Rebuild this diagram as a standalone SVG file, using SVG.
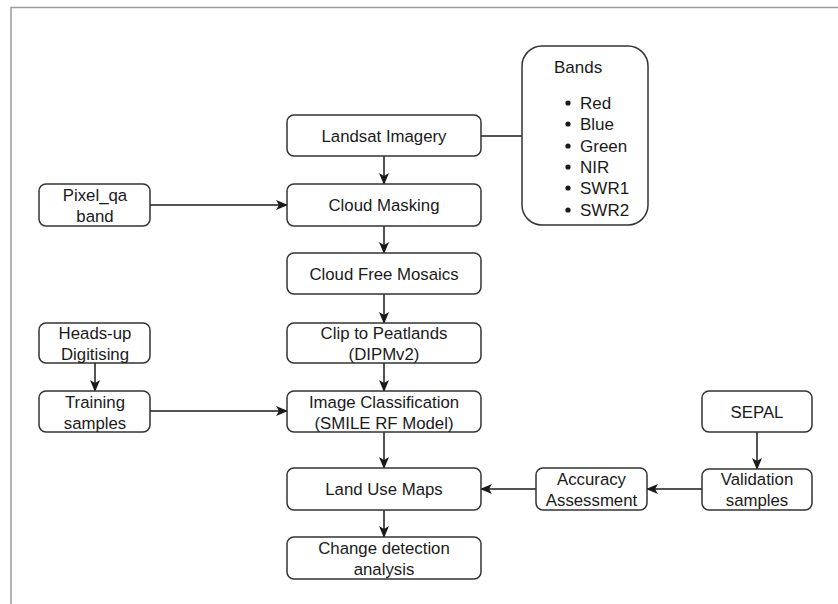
<svg xmlns="http://www.w3.org/2000/svg" width="838" height="604" viewBox="0 0 838 604">
  <style>
    .box { fill: #ffffff; stroke: #333333; stroke-width: 1.5; }
    .lbl { font-family: "Liberation Sans", Arial, sans-serif; font-size: 16.8px; fill: #1a1a1a; text-anchor: middle; }
    .lst { font-family: "Liberation Sans", Arial, sans-serif; font-size: 17px; fill: #1a1a1a; }
    .wire { fill: none; stroke: #1a1a1a; stroke-width: 1.5; }
    .frame { fill: none; stroke: #9a9a9a; stroke-width: 1.5; }
  </style>
  <defs>
    <marker id="arrow" viewBox="0 0 12 10" refX="11" refY="5" markerWidth="12" markerHeight="10" markerUnits="userSpaceOnUse" orient="auto">
      <path d="M0,0 L12,5 L0,10 L3,5 z" fill="#1a1a1a"/>
    </marker>
  </defs>

  <rect width="838" height="604" fill="#ffffff"/>
  <!-- page frame (top and left edges only) -->
  <path class="frame" d="M11,604 V7.5 H838"/>

  <!-- connectors -->
  <g id="connectors">
    <line class="wire" x1="481" y1="136" x2="522" y2="136"/>
    <line class="wire" x1="384" y1="156" x2="384" y2="184" marker-end="url(#arrow)"/>
    <line class="wire" x1="150" y1="205" x2="287" y2="205" marker-end="url(#arrow)"/>
    <line class="wire" x1="384" y1="226" x2="384" y2="253" marker-end="url(#arrow)"/>
    <line class="wire" x1="384" y1="294" x2="384" y2="323" marker-end="url(#arrow)"/>
    <line class="wire" x1="384" y1="363" x2="384" y2="391" marker-end="url(#arrow)"/>
    <line class="wire" x1="95" y1="363" x2="95" y2="391" marker-end="url(#arrow)"/>
    <line class="wire" x1="150" y1="411" x2="287" y2="411" marker-end="url(#arrow)"/>
    <line class="wire" x1="384" y1="432" x2="384" y2="468" marker-end="url(#arrow)"/>
    <line class="wire" x1="757" y1="432" x2="757" y2="469" marker-end="url(#arrow)"/>
    <line class="wire" x1="702" y1="489" x2="647" y2="489" marker-end="url(#arrow)"/>
    <line class="wire" x1="536" y1="489" x2="481" y2="489" marker-end="url(#arrow)"/>
    <line class="wire" x1="384" y1="510" x2="384" y2="537" marker-end="url(#arrow)"/>
  </g>

  <g id="bands">
    <rect class="box" x="522" y="46" width="126" height="179" rx="20" ry="20"/>
    <text class="lst" x="554" y="73">Bands</text>
    <g class="lst">
      <circle cx="568" cy="103" r="2.6" fill="#1a1a1a"/>
      <text class="lst" x="580" y="109">Red</text>
      <circle cx="568" cy="124" r="2.6" fill="#1a1a1a"/>
      <text class="lst" x="580" y="130">Blue</text>
      <circle cx="568" cy="146" r="2.6" fill="#1a1a1a"/>
      <text class="lst" x="580" y="152">Green</text>
      <circle cx="568" cy="167" r="2.6" fill="#1a1a1a"/>
      <text class="lst" x="580" y="173">NIR</text>
      <circle cx="568" cy="188" r="2.6" fill="#1a1a1a"/>
      <text class="lst" x="580" y="194">SWR1</text>
      <circle cx="568" cy="210" r="2.6" fill="#1a1a1a"/>
      <text class="lst" x="580" y="216">SWR2</text>
    </g>
  </g>

  <g id="landsat">
    <rect class="box" x="287" y="115" width="194" height="41" rx="7"/>
    <text class="lbl" x="384" y="141.5">Landsat Imagery</text>
  </g>

  <g id="cloud-masking">
    <rect class="box" x="287" y="184" width="194" height="42" rx="7"/>
    <text class="lbl" x="384" y="211">Cloud Masking</text>
  </g>

  <g id="pixel-qa">
    <rect class="box" x="39" y="184" width="111" height="42" rx="7"/>
    <text class="lbl" x="95" y="200.5">Pixel_qa</text>
    <text class="lbl" x="95" y="221.5">band</text>
  </g>

  <g id="cloud-free">
    <rect class="box" x="287" y="253" width="194" height="41" rx="7"/>
    <text class="lbl" x="384" y="279.5">Cloud Free Mosaics</text>
  </g>

  <g id="clip">
    <rect class="box" x="287" y="323" width="194" height="40" rx="7"/>
    <text class="lbl" x="384" y="339">Clip to Peatlands</text>
    <text class="lbl" x="384" y="360">(DIPMv2)</text>
  </g>

  <g id="heads-up">
    <rect class="box" x="39" y="323" width="111" height="40" rx="7"/>
    <text class="lbl" x="95" y="339">Heads-up</text>
    <text class="lbl" x="95" y="360">Digitising</text>
  </g>

  <g id="classification">
    <rect class="box" x="287" y="391" width="194" height="41" rx="7"/>
    <text class="lbl" x="384" y="408">Image Classification</text>
    <text class="lbl" x="384" y="429">(SMILE RF Model)</text>
  </g>

  <g id="training">
    <rect class="box" x="39" y="391" width="111" height="41" rx="7"/>
    <text class="lbl" x="95" y="408">Training</text>
    <text class="lbl" x="95" y="429">samples</text>
  </g>

  <g id="sepal">
    <rect class="box" x="702" y="391" width="110" height="41" rx="7"/>
    <text class="lbl" x="757" y="417.5">SEPAL</text>
  </g>

  <g id="land-use">
    <rect class="box" x="287" y="468" width="194" height="42" rx="7"/>
    <text class="lbl" x="384" y="495">Land Use Maps</text>
  </g>

  <g id="accuracy">
    <rect class="box" x="536" y="468" width="111" height="42" rx="7"/>
    <text class="lbl" x="591.5" y="484.5">Accuracy</text>
    <text class="lbl" x="591.5" y="505.5">Assessment</text>
  </g>

  <g id="validation">
    <rect class="box" x="702" y="469" width="110" height="41" rx="7"/>
    <text class="lbl" x="757" y="485">Validation</text>
    <text class="lbl" x="757" y="506">samples</text>
  </g>

  <g id="change-detection">
    <rect class="box" x="287" y="537" width="194" height="42" rx="7"/>
    <text class="lbl" x="384" y="553.5">Change detection</text>
    <text class="lbl" x="384" y="574.5">analysis</text>
  </g>
</svg>
